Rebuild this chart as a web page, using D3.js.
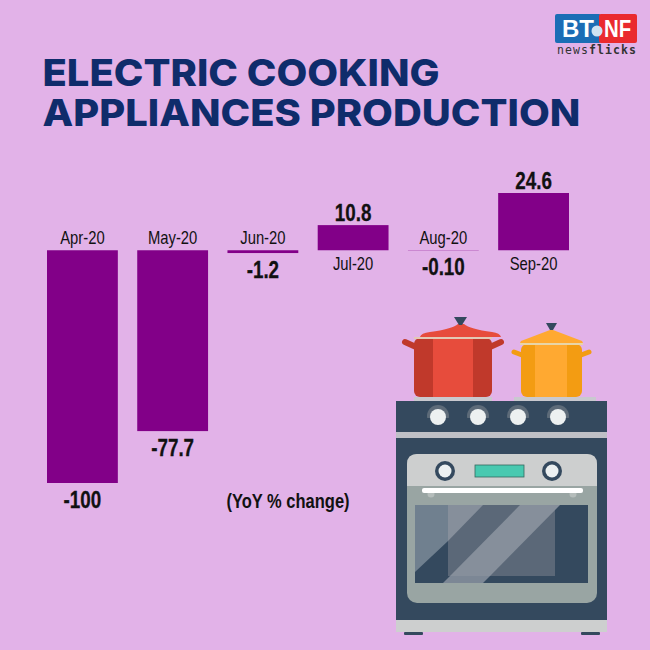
<!DOCTYPE html>
<html lang="en">
<head>
<meta charset="utf-8">
<title>Electric cooking appliances production</title>
<script src="https://d3js.org/d3.v7.min.js"></script>
<style>
	html, body { margin: 0; padding: 0; background: #e2b2e8; }
	svg { display: block; }
	text { fill: #111; }
	.title { font-family: "Inter", sans-serif; font-weight: 800; font-size: 37.5px; fill: #0f2c6b; }
	.month { font-family: "Liberation Sans", sans-serif; font-size: 18.5px; text-anchor: middle; }
	.value { font-family: "Liberation Sans", sans-serif; font-weight: bold; font-size: 23.5px; text-anchor: middle; stroke: #111; stroke-width: 0.3px; }
	.note { font-family: "Liberation Sans", sans-serif; font-weight: bold; font-size: 20px; text-anchor: middle; }
	.bar { fill: #820088; }
</style>
</head>
<body>
<div id="chart"></div>
<script>
var months = ["Apr-20", "May-20", "Jun-20", "Jul-20", "Aug-20", "Sep-20"];
var changes = [-100, -77.7, -1.2, 10.8, -0.10, 24.6];
var changeLabels = ["-100", "-77.7", "-1.2", "10.8", "-0.10", "24.6"];
var titleLines = ["ELECTRIC COOKING", "APPLIANCES PRODUCTION"];

var w = 650, h = 650;

var svg = d3.select("#chart").append("svg")
	.attr("width", w)
	.attr("height", h);

svg.append("rect").attr("width", w).attr("height", h).attr("fill", "#e2b2e8");

// squeezes or widens text along x, the reference fonts aren't installed
function placed(px, py, sx) {
	return "translate(" + px + "," + py + ") scale(" + sx + ",1)";
}

// title
svg.selectAll(".title")
	.data(titleLines)
	.enter()
	.append("text")
	.attr("class", "title")
	.attr("transform", function(d, i) { return placed(42.5, 86 + i * 40, 1.065); })
	.text(function(d) { return d; });

// bars
var x = d3.scaleBand().domain(months).range([47, 569]).paddingInner(0.215);
var y = d3.scaleLinear().domain([-100, 24.6]).range([483, 193]);

svg.selectAll(".bar")
	.data(changes)
	.enter()
	.append("rect")
	.attr("class", "bar")
	.attr("x", function(d, i) { return x(months[i]); })
	.attr("y", function(d) { return Math.min(y(d), y(0)); })
	.attr("width", x.bandwidth())
	.attr("height", function(d) { return Math.abs(y(d) - y(0)); });

// month names sit on the far side of the zero line from the bar
svg.selectAll(".month")
	.data(months)
	.enter()
	.append("text")
	.attr("class", "month")
	.attr("transform", function(d, i) {
		return placed(x(d) + x.bandwidth() / 2, changes[i] < 0 ? y(0) - 6 : y(0) + 20, 0.8);
	})
	.text(function(d) { return d; });

svg.selectAll(".value")
	.data(changes)
	.enter()
	.append("text")
	.attr("class", "value")
	.attr("transform", function(d, i) {
		return placed(x(months[i]) + x.bandwidth() / 2, d < 0 ? y(d) + 25 : y(d) - 4, 0.8);
	})
	.text(function(d, i) { return changeLabels[i]; });

svg.append("text")
	.attr("class", "note")
	.attr("transform", placed(288, 508, 0.825))
	.text("(YoY % change)");

// logo
var logo = svg.append("g");
logo.append("rect").attr("x", 555).attr("y", 14).attr("width", 46).attr("height", 29).attr("rx", 2).attr("fill", "#1b6db5");
logo.append("rect").attr("x", 599).attr("y", 14).attr("width", 38).attr("height", 29).attr("rx", 2).attr("fill", "#ea2a2e");
logo.append("text").attr("transform", placed(562, 37, 1)).attr("font-family", "Liberation Sans").attr("font-weight", "bold")
	.attr("font-size", 24).style("fill", "#fff").text("BT");
logo.append("text").attr("transform", placed(604, 37, 0.85)).attr("font-family", "Liberation Sans").attr("font-weight", "bold")
	.attr("font-size", 24).style("fill", "#fff").text("NF");
logo.append("circle").attr("cx", 597).attr("cy", 31).attr("r", 5.5).attr("fill", "#cfe3f2");
var brand = logo.append("text").attr("x", 557).attr("y", 54).attr("font-family", "DejaVu Sans Mono").attr("font-size", 11.5)
	.style("fill", "#333").attr("textLength", 79);
brand.append("tspan").text("news");
brand.append("tspan").attr("font-weight", "bold").text("flicks");

// stove illustration
var art = svg.append("g");
function box(g, x0, y0, x1, y1, fill, rx) {
	return g.append("rect").attr("x", x0).attr("y", y0).attr("width", x1 - x0).attr("height", y1 - y0)
		.attr("rx", rx || 0).attr("fill", fill);
}
function poly(g, pts, fill) {
	return g.append("polygon").attr("points", pts).attr("fill", fill);
}
function line(g, x0, y0, x1, y1, stroke, sw) {
	return g.append("line").attr("x1", x0).attr("y1", y0).attr("x2", x1).attr("y2", y1)
		.attr("stroke", stroke).attr("stroke-width", sw).attr("stroke-linecap", "round");
}

// red pot
line(art, 405, 342, 416, 347, "#c0392b", 6);
line(art, 501, 342, 490, 347, "#c0392b", 6);
box(art, 414, 338, 492, 397, "#c0392b", 6);
box(art, 433, 338, 473, 397, "#e74c3c");
art.append("path").attr("d", "M420 337 Q421 333 430 332 Q452 329 458 324 H464 Q470 329 492 332 Q500 333 501 337 Z").attr("fill", "#e74c3c");
poly(art, "454,317 467,317 462,325 459,325", "#34495e");
line(art, 414, 338, 492, 338, "#e3c9b4", 2).attr("stroke-linecap", "butt");

// yellow pot
line(art, 514, 352, 522, 355, "#f39c12", 5);
line(art, 589, 352, 581, 355, "#f39c12", 5);
box(art, 521, 344, 582, 397, "#f39c12", 6);
box(art, 535, 344, 567, 397, "#ffa931");
poly(art, "520,343 521,341 550,330 553,330 582,341 583,343", "#ffa931");
poly(art, "546,323 557,323 553,330 550,330", "#34495e");
line(art, 520, 344, 583, 344, "#e8d5a8", 2).attr("stroke-linecap", "butt");

// hob
box(art, 414, 397, 492, 401, "#c9c9cf");
box(art, 514, 397, 596, 401, "#c9c9cf");
box(art, 396, 401, 607, 432, "#34495e");
box(art, 396, 432, 607, 438, "#bfc0c6");
[438, 478, 518, 558].forEach(function(cx) {
	art.append("circle").attr("cx", cx).attr("cy", 416).attr("r", 11).attr("fill", "#5d6b79");
	box(art, cx - 12, 418, cx + 12, 430, "#34495e");
	art.append("circle").attr("cx", cx).attr("cy", 417).attr("r", 8).attr("fill", "#ecf0f1");
});

// oven body
box(art, 396, 438, 607, 620, "#34495e");
box(art, 396, 620, 607, 632, "#cdcfcf");
box(art, 404, 632, 423, 635, "#34495e", 1);
box(art, 581, 632, 600, 635, "#34495e", 1);

// control panel and door
box(art, 407, 454, 597, 603, "#99a5a3", 10);
art.append("path").attr("d", "M407 486 V464 Q407 454 417 454 H587 Q597 454 597 464 V486 Z").attr("fill", "#cdcfcf");
[445, 552].forEach(function(cx) {
	art.append("circle").attr("cx", cx).attr("cy", 471).attr("r", 10).attr("fill", "#34495e");
	art.append("circle").attr("cx", cx).attr("cy", 471).attr("r", 6.5).attr("fill", "#ecf0f1");
});
box(art, 475, 465, 524, 477, "#48c9b0").attr("stroke", "#34695f").attr("stroke-width", 0.8);
art.append("circle").attr("cx", 431).attr("cy", 494).attr("r", 3.5).attr("fill", "#b5bdbb");
art.append("circle").attr("cx", 573).attr("cy", 494).attr("r", 3.5).attr("fill", "#b5bdbb");
box(art, 422, 488, 583, 493, "#fff", 2);

// window with reflections
box(art, 415, 505, 588, 583, "#34495e");
box(art, 448, 505, 555, 576, "#5b6878");
poly(art, "415,505 448,505 448,541 415,572", "#70808f");
poly(art, "448,505 483,505 448,541", "#868f9b");
poly(art, "520,505 560,505 490,576 450,576", "#868f9b");
poly(art, "450,576 490,576 483,583 443,583", "#7c8795");
</script>
</body>
</html>
